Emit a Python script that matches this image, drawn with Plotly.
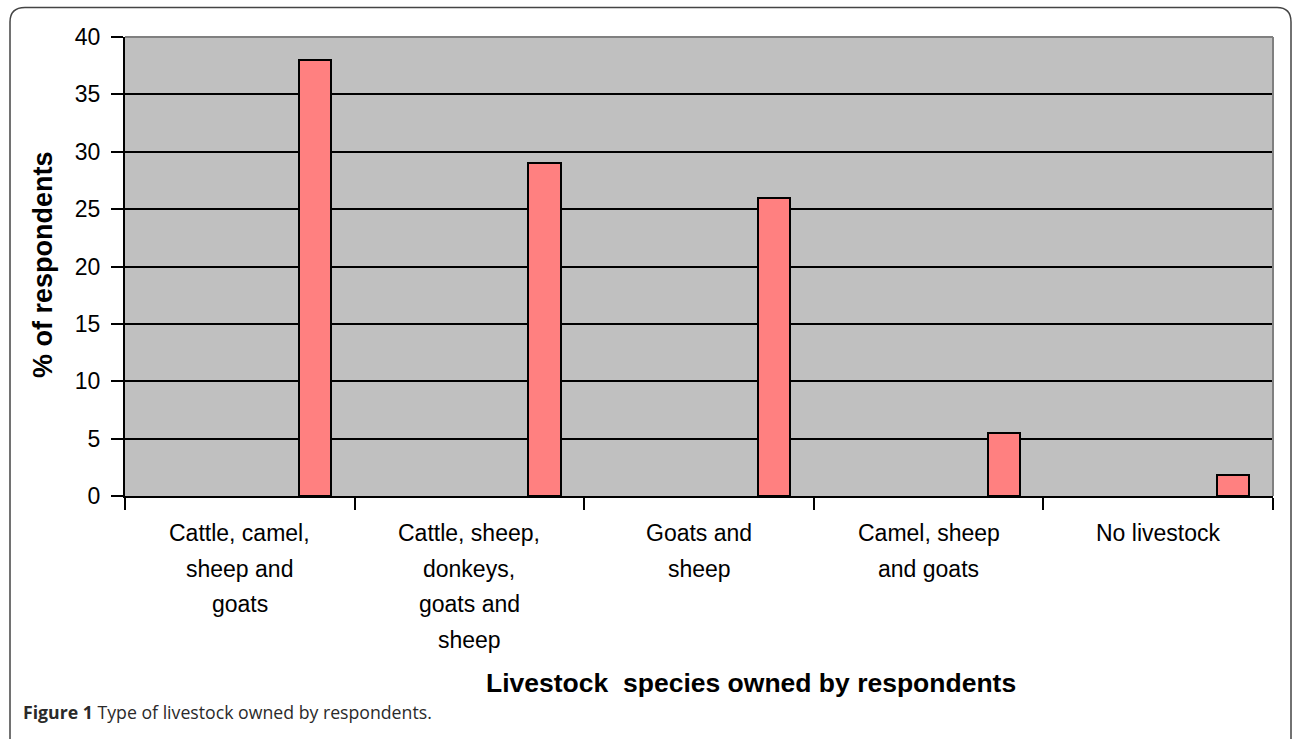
import plotly.graph_objects as go

categories = ["Cattle, camel, sheep and goats",
              "Cattle, sheep, donkeys, goats and sheep",
              "Goats and sheep",
              "Camel, sheep and goats",
              "No livestock"]
label_lines = [["Cattle, camel,", "sheep and", "goats"],
               ["Cattle, sheep,", "donkeys,", "goats and", "sheep"],
               ["Goats and", "sheep"],
               ["Camel, sheep", "and goats"],
               ["No livestock"]]
values = [38, 29, 26, 5.5, 1.8]
y_ticks = [0, 5, 10, 15, 20, 25, 30, 35, 40]

W, H = 1292, 739
L, R, T, B = 125, 1273, 37, 496

def px(x):
    return (x - L) / (R - L)

def py(y):
    return (B - y) / (B - T)

fig = go.Figure()
fig.add_trace(go.Bar(
    x=categories, y=values, width=0.14, offset=0.257,
    marker=dict(color="#FF8080", line=dict(color="black", width=2)),
    showlegend=False, hoverinfo="skip",
))

FONT = "Liberation Sans, Arial, sans-serif"

annotations = []
for cat, lines in zip(categories, label_lines):
    for i, ln in enumerate(lines):
        annotations.append(dict(
            x=cat, xref="x", y=0, yref="paper", text=ln, showarrow=False,
            xanchor="center", yanchor="middle", yshift=-(37 + 35.5 * i),
            font=dict(family=FONT, size=23, color="black")))

annotations.append(dict(
    x=px(751), xref="paper", y=py(683), yref="paper",
    text="<b>Livestock\u00a0 species owned by respondents</b>", showarrow=False,
    xanchor="center", yanchor="middle",
    font=dict(family=FONT, size=26.5, color="black")))
annotations.append(dict(
    x=px(43), xref="paper", y=py(265), yref="paper",
    text="<b>% of respondents</b>", showarrow=False, textangle=-90,
    xanchor="center", yanchor="middle",
    font=dict(family=FONT, size=27, color="black")))
annotations.append(dict(
    x=px(21), xref="paper", y=py(712), yref="paper",
    text="<b>Figure 1</b> Type of livestock owned by respondents.", showarrow=False,
    xanchor="left", yanchor="middle",
    font=dict(family="Open Sans, sans-serif", size=17.7, color="#2a2a2a")))

shapes = [
    dict(type="line", xref="paper", yref="paper", x0=0, x1=1, y0=1, y1=1,
         line=dict(color="#808080", width=2), layer="above"),
    dict(type="line", xref="paper", yref="paper", x0=1, x1=1, y0=0, y1=1,
         line=dict(color="#808080", width=2), layer="above"),
    dict(type="path", xref="paper", yref="paper",
         path=(f"M {px(10)},{py(745)} L {px(10)},{py(22)} "
               f"Q {px(10)},{py(7.5)} {px(25)},{py(7.5)} "
               f"L {px(1277)},{py(7.5)} Q {px(1291)},{py(7.5)} {px(1291)},{py(22)} "
               f"L {px(1291)},{py(745)}"),
         line=dict(color="#444444", width=1.5), layer="above"),
]

fig.update_layout(
    width=W, height=H,
    margin=dict(l=L, r=W - R, t=T, b=H - B, pad=0),
    paper_bgcolor="white", plot_bgcolor="#C0C0C0",
    font=dict(family=FONT, size=23, color="black"),
    annotations=annotations, shapes=shapes,
    bargap=0,
)
fig.update_xaxes(
    type="category", range=[-0.5, 4.5], showticklabels=False,
    tickson="boundaries", ticks="outside", ticklen=12, tickwidth=2, tickcolor="black",
    showline=True, linecolor="black", linewidth=2, showgrid=False, zeroline=False,
)
fig.update_yaxes(
    range=[0, 40], tickvals=y_ticks, ticks="outside", ticklen=12, tickwidth=2,
    tickcolor="black", showline=True, linecolor="black", linewidth=2,
    showgrid=True, gridcolor="black", gridwidth=2, zeroline=False,
    tickfont=dict(family=FONT, size=23, color="black"), ticklabelstandoff=6,
)

fig.write_html("out.html")
